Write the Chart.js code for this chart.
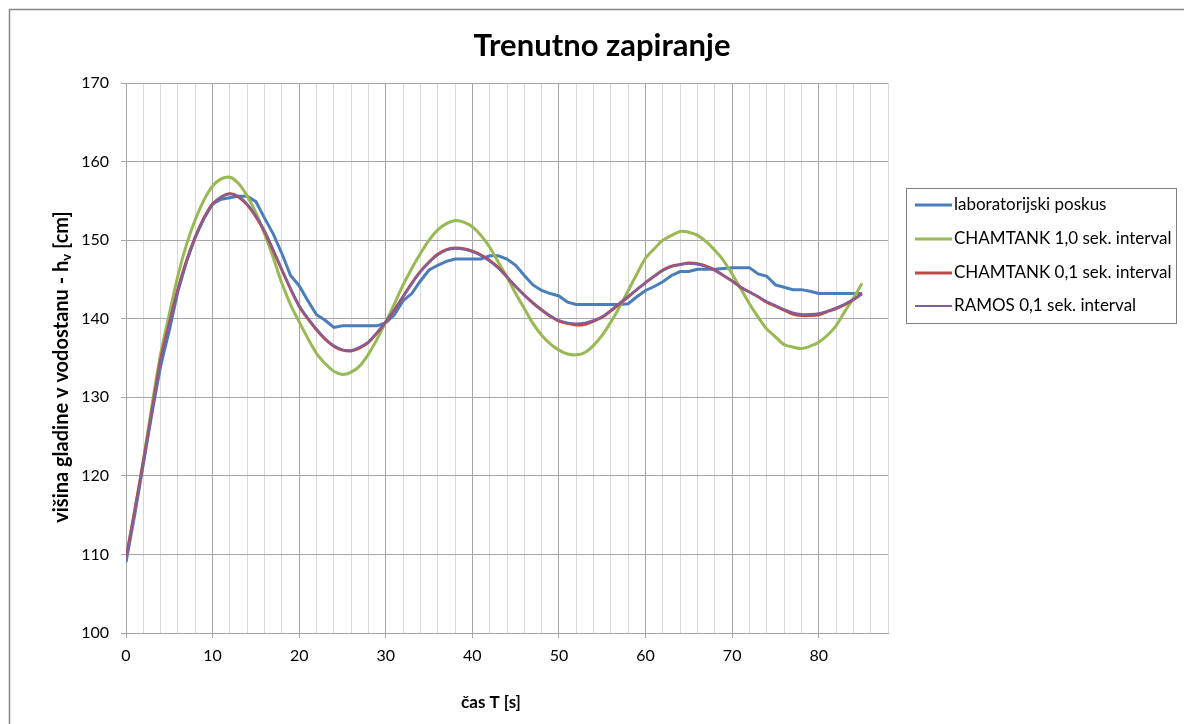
<!DOCTYPE html>
<html>
<head>
<meta charset="utf-8">
<script src="https://cdn.jsdelivr.net/npm/chart.js@4"></script>
<style>
  html, body { margin: 0; padding: 0; background: #fff; }
  #wrap { position: relative; width: 1184px; height: 724px; }
</style>
</head>
<body>
<div id="wrap"><canvas id="chart" width="1184" height="724"></canvas></div>
<script>
// time axis (s)
const seconds = [0, 1, 2, 3, 4, 5, 6, 7, 8, 9, 10, 11, 12, 13, 14, 15, 16, 17, 18, 19,
  20, 21, 22, 23, 24, 25, 26, 27, 28, 29, 30, 31, 32, 33, 34, 35, 36, 37, 38, 39,
  40, 41, 42, 43, 44, 45, 46, 47, 48, 49, 50, 51, 52, 53, 54, 55, 56, 57, 58, 59,
  60, 61, 62, 63, 64, 65, 66, 67, 68, 69, 70, 71, 72, 73, 74, 75, 76, 77, 78, 79,
  80, 81, 82, 83, 84, 85];

// laboratorijski poskus
const labValues = [109, 115, 121.5, 128, 134, 138.5, 143.5, 147.3, 150.4, 152.8,
  154.6, 155.2, 155.4, 155.6, 155.6, 154.9, 152.8, 150.8, 148.3, 145.5,
  144.2, 142.3, 140.5, 139.8, 138.9, 139.1, 139.1, 139.1, 139.1, 139.1,
  139.5, 140.5, 142.3, 143.2, 144.8, 146.2, 146.8, 147.3, 147.6, 147.6,
  147.6, 147.6, 148.0, 148.0, 147.6, 146.8, 145.5, 144.3, 143.6, 143.2,
  142.9, 142.1, 141.8, 141.8, 141.8, 141.8, 141.8, 141.8, 141.9, 142.8,
  143.6, 144.1, 144.7, 145.5, 146.0, 146.0, 146.3, 146.3, 146.3, 146.4,
  146.5, 146.5, 146.5, 145.7, 145.4, 144.3, 144.0, 143.7, 143.7, 143.5,
  143.2, 143.2, 143.2, 143.2, 143.2, 143.2];

// CHAMTANK 1,0 sek. interval
const chamtank10 = [109.5, 115.5, 122, 129, 135.5, 140.6, 145.5, 149.5, 152.6, 155.1,
  156.9, 157.8, 158.0, 157.2, 155.6, 153.5, 150.8, 147.8, 144.5, 141.8,
  139.6, 137.5, 135.6, 134.3, 133.3, 132.9, 133.2, 134.0, 135.5, 137.4,
  139.6, 141.9, 144.3, 146.4, 148.3, 150.0, 151.3, 152.1, 152.5, 152.3,
  151.7, 150.6, 149.1, 147.2, 145.3, 143.2, 141.3, 139.4, 137.9, 136.8,
  136.0, 135.5, 135.4, 135.7, 136.6, 137.9, 139.6, 141.5, 143.6, 145.7,
  147.7, 148.9, 150.0, 150.6, 151.1, 151.0, 150.6, 149.8, 148.7, 147.4,
  145.7, 143.8, 141.9, 140.2, 138.7, 137.7, 136.7, 136.4, 136.2, 136.5,
  137.0, 137.9, 139.1, 140.9, 142.6, 144.5];

// CHAMTANK 0,1 sek. interval
const chamtank01 = [109.5, 115.5, 121.8, 128.3, 134.8, 139.4, 143.8, 147.4, 150.4, 152.8,
  154.6, 155.5, 155.9, 155.5, 154.5, 153.0, 151.1, 148.7, 146.2, 143.8,
  141.6, 140.0, 138.6, 137.4, 136.5, 136.0, 135.9, 136.3, 137.0, 138.2,
  139.6, 141.1, 142.8, 144.5, 146.0, 147.2, 148.2, 148.8, 149.0, 148.9,
  148.6, 148.1, 147.4, 146.5, 145.3, 144.1, 143.0, 142.0, 141.1, 140.3,
  139.7, 139.4, 139.2, 139.3, 139.7, 140.2, 141.0, 141.9, 142.8, 143.7,
  144.6, 145.4, 146.2, 146.7, 146.9, 147.1, 147.0, 146.7, 146.2, 145.5,
  144.8, 144.0, 143.4, 142.8, 142.1, 141.6, 141.1, 140.6, 140.4, 140.4,
  140.5, 140.9, 141.3, 141.8, 142.4, 143.2];

// RAMOS 0,1 sek. interval
const ramos01 = [109.3, 115.3, 121.7, 128.2, 134.6, 139.3, 143.7, 147.3, 150.3, 152.7,
  154.5, 155.5, 155.9, 155.6, 154.6, 153.1, 151.2, 148.8, 146.3, 143.9,
  141.7, 140.1, 138.7, 137.5, 136.6, 136.1, 136.0, 136.4, 137.1, 138.3,
  139.7, 141.2, 142.9, 144.5, 146.0, 147.2, 148.1, 148.7, 148.9, 148.8,
  148.5, 148.0, 147.3, 146.4, 145.3, 144.1, 143.0, 142.0, 141.2, 140.4,
  139.8, 139.5, 139.4, 139.5, 139.8, 140.3, 141.1, 142.0, 142.9, 143.7,
  144.6, 145.4, 146.1, 146.6, 146.9, 147.0, 146.9, 146.6, 146.1, 145.5,
  144.8, 144.0, 143.4, 142.8, 142.2, 141.7, 141.2, 140.8, 140.6, 140.6,
  140.7, 141.0, 141.4, 141.9, 142.5, 143.1];

const seriesLabels = ['laboratorijski poskus', 'CHAMTANK 1,0 sek. interval',
  'CHAMTANK 0,1 sek. interval', 'RAMOS 0,1 sek. interval'];

const FONT = 'Lato, "Open Sans", sans-serif';

function toPoints(values) {
  return seconds.map((t, i) => ({ x: t, y: values[i] }));
}

// title, axis titles, frame and legend box
const decorations = {
  id: 'decorations',
  afterDraw(chart) {
    const ctx = chart.ctx;
    ctx.save();

    // outer frame (top + left visible)
    ctx.strokeStyle = '#868686';
    ctx.lineWidth = 1.5;
    ctx.beginPath();
    ctx.moveTo(9.5, 730);
    ctx.lineTo(9.5, 9.5);
    ctx.lineTo(1190, 9.5);
    ctx.stroke();

    ctx.fillStyle = '#000';
    ctx.textAlign = 'center';
    ctx.textBaseline = 'middle';

    // chart title
    ctx.font = 'bold 31px ' + FONT;
    ctx.fillText('Trenutno zapiranje', 602, 46);

    // x axis title
    ctx.font = 'bold 17px ' + FONT;
    ctx.fillText('čas T [s]', 491, 703);

    // y axis title with subscript
    ctx.translate(62, 367);
    ctx.rotate(-Math.PI / 2);
    const main = 'višina gladine v vodostanu - h';
    const tail = ' [cm]';
    ctx.font = 'bold 20px ' + FONT;
    const wMain = ctx.measureText(main).width;
    const wTail = ctx.measureText(tail).width;
    ctx.font = 'bold 13px ' + FONT;
    const wSub = ctx.measureText('v').width;
    const total = wMain + wSub + wTail;
    let x = -total / 2;
    ctx.textAlign = 'left';
    ctx.font = 'bold 20px ' + FONT;
    ctx.fillText(main, x, 0);
    x += wMain;
    ctx.font = 'bold 13px ' + FONT;
    ctx.fillText('v', x, 5);
    x += wSub;
    ctx.font = 'bold 20px ' + FONT;
    ctx.fillText(tail, x, 0);
    ctx.setTransform(1, 0, 0, 1, 0, 0);

    // legend
    ctx.strokeStyle = '#7f7f7f';
    ctx.lineWidth = 1;
    ctx.strokeRect(906.5, 188.5, 270, 135);
    ctx.font = '17px ' + FONT;
    ctx.textAlign = 'left';
    ctx.textBaseline = 'middle';
    const rows = [205, 239, 273, 306];
    const ds = chart.data.datasets;
    seriesLabels.forEach((label, i) => {
      const d = ds[i];
      ctx.strokeStyle = d.borderColor;
      ctx.lineWidth = d.borderWidth;
      ctx.beginPath();
      ctx.moveTo(915, rows[i]);
      ctx.lineTo(952, rows[i]);
      ctx.stroke();
      ctx.fillStyle = '#000';
      ctx.fillText(label, 954, rows[i]);
    });
    ctx.restore();
  }
};

const ctx = document.getElementById('chart').getContext('2d');
new Chart(ctx, {
  type: 'line',
  data: {
    datasets: [
      { label: seriesLabels[0], data: toPoints(labValues), borderColor: '#4a7ebb', borderWidth: 3, tension: 0, order: 3 },
      { label: seriesLabels[1], data: toPoints(chamtank10), borderColor: '#98b954', borderWidth: 3, tension: 0.3, order: 2 },
      { label: seriesLabels[2], data: toPoints(chamtank01), borderColor: '#be4b48', borderWidth: 3, tension: 0.3, order: 1 },
      { label: seriesLabels[3], data: toPoints(ramos01), borderColor: '#7d60a0', borderWidth: 2, tension: 0.3, order: 0 }
    ]
  },
  options: {
    responsive: false,
    animation: false,
    events: [],
    elements: { point: { radius: 0 } },
    layout: { padding: { left: 0, top: 83, right: 296, bottom: 0 } },
    plugins: {
      legend: { display: false },
      title: { display: false },
      tooltip: { enabled: false }
    },
    scales: {
      x: {
        type: 'linear',
        min: 0,
        max: 88,
        afterFit: s => { s.height = 91; },
        ticks: {
          stepSize: 2,
          autoSkip: false,
          maxRotation: 0,
          padding: 8,
          color: '#000',
          font: { family: FONT, size: 16 },
          callback: v => (v % 10 === 0 ? v : '')
        },
        grid: {
          color: c => (c.tick && c.tick.value % 10 === 0 ? '#a6a6a6' : '#d9d9d9'),
          tickColor: c => (c.tick && c.tick.value % 10 === 0 ? '#a6a6a6' : 'rgba(0,0,0,0)'),
          tickLength: 5
        },
        border: { color: '#a6a6a6' }
      },
      y: {
        min: 100,
        max: 170,
        afterFit: s => { s.width = 126; },
        ticks: {
          stepSize: 10,
          padding: 12,
          color: '#000',
          font: { family: FONT, size: 16 }
        },
        grid: { color: '#a6a6a6', tickLength: 5 },
        border: { color: '#a6a6a6' }
      }
    }
  },
  plugins: [decorations]
});
</script>
</body>
</html>
